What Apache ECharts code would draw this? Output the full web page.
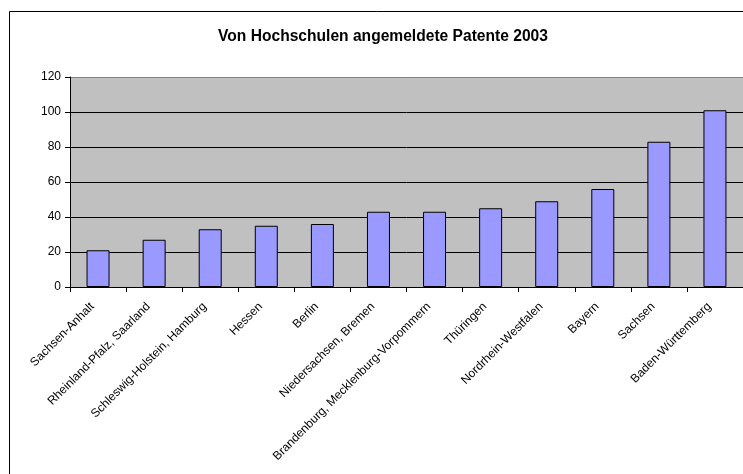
<!DOCTYPE html>
<html>
<head>
<meta charset="utf-8">
<script src="https://cdn.jsdelivr.net/npm/echarts@6/dist/echarts.min.js"></script>
<style>
html,body{margin:0;padding:0;background:#fff;}
#c{width:743px;height:474px;}
</style>
</head>
<body>
<div id="c"></div>
<script>
const titleText = "Von Hochschulen angemeldete Patente 2003";
const categories = ["Sachsen-Anhalt","Rheinland-Pfalz, Saarland","Schleswig-Holstein, Hamburg","Hessen","Berlin","Niedersachsen, Bremen","Brandenburg, Mecklenburg-Vorpommern","Thüringen","Nordrhein-Westfalen","Bayern","Sachsen","Baden-Württemberg"];
const values = [21, 27, 33, 35, 36, 43, 43, 45, 49, 56, 83, 101];
const yTicks = [0, 20, 40, 60, 80, 100, 120];

const chart = echarts.init(document.getElementById('c'), null, {renderer:'canvas'});
chart.setOption({
  animation: false,
  backgroundColor: '#fff',
  textStyle: {fontFamily: 'Liberation Sans, Arial, sans-serif'},
  title: {
    text: titleText,
    left: 378, top: 24, textAlign: 'center',
    textStyle: {fontSize: 15.6, fontWeight: 'bold', color: '#000', fontFamily: 'Liberation Sans, Arial, sans-serif'}
  },
  graphic: [{
    type: 'rect', left: 7, top: 9, z: 100, silent: true,
    shape: {width: 800, height: 500},
    style: {fill: 'none', stroke: '#000', lineWidth: 1}
  }],
  grid: {left: 70, top: 77, width: 674, height: 210, containLabel: false,
    show: true, backgroundColor: '#C0C0C0', borderWidth: 0},
  xAxis: {
    type: 'category', data: categories,
    axisLine: {lineStyle: {color: '#000', width: 1}},
    axisTick: {show: true, alignWithLabel: false, length: 5, lineStyle: {color: '#000'}},
    axisLabel: {interval: 0, rotate: 45, fontSize: 12, color: '#000', margin: 12,
      padding: [0, 8, 0, 0],
      fontFamily: 'Liberation Sans, Arial, sans-serif'}
  },
  yAxis: {
    type: 'value', min: yTicks[0], max: yTicks[yTicks.length-1], interval: 20,
    axisLine: {show: true, lineStyle: {color: '#000', width: 1}},
    axisTick: {show: true, length: 5, lineStyle: {color: '#000'}},
    axisLabel: {fontSize: 12, color: '#000', margin: 9,
      fontFamily: 'Liberation Sans, Arial, sans-serif'},
    splitLine: {show: true, lineStyle: {color: ['#000','#000','#000','#000','#000','#000','#808080'], width: 1}}
  },
  series: [{
    type: 'bar', data: values, barWidth: 23,
    itemStyle: {color: '#9999FF', borderColor: '#000', borderWidth: 1}
  }]
});
</script>
</body>
</html>
